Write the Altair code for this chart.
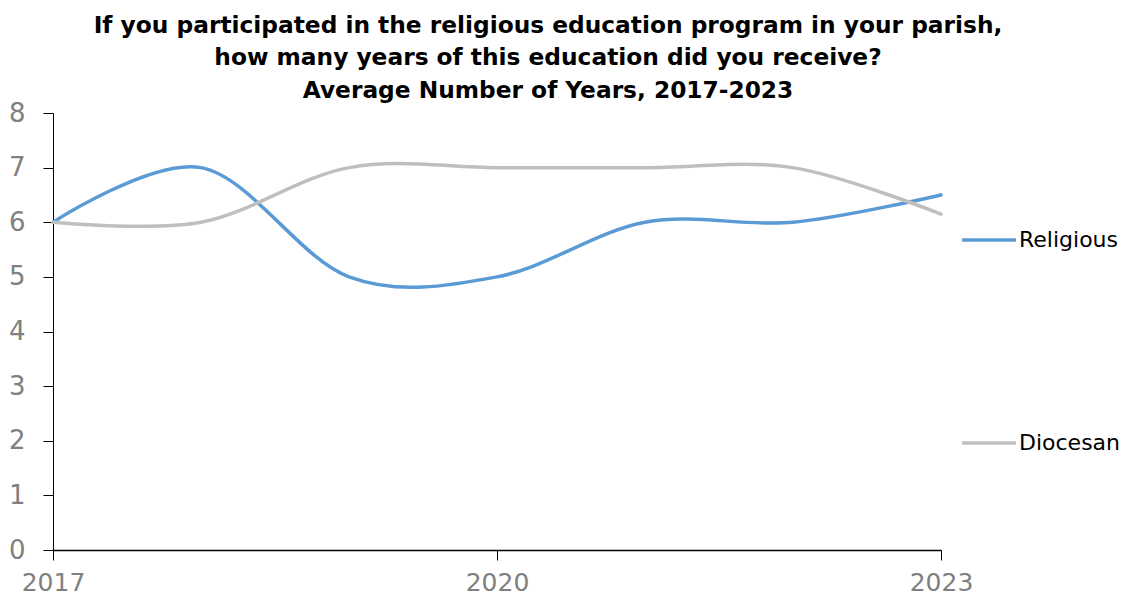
import altair as alt
import pandas as pd

years = [2017, 2018, 2019, 2020, 2021, 2022, 2023]
religious = [6.0, 7.0, 5.0, 5.0, 6.0, 6.0, 6.5]
diocesan = [6.0, 6.0, 7.0, 7.0, 7.0, 7.0, 6.15]
series = ["Religious", "Diocesan"]
colors = ["#5B9BD5", "#BFBFBF"]
x_ticks = [2017, 2020, 2023]
y_ticks = [0, 1, 2, 3, 4, 5, 6, 7, 8]

rows = []
for name, vals in zip(series, [religious, diocesan]):
    for yr, v in zip(years, vals):
        rows.append({"Year": yr, "Value": v, "Series": name})
df = pd.DataFrame(rows)

FONT = "DejaVu Sans"

chart = alt.Chart(df).mark_line(
    interpolate="cardinal", strokeWidth=3.5, strokeCap="round"
).encode(
    x=alt.X("Year:Q",
            scale=alt.Scale(domain=[2017, 2023], nice=False, zero=False),
            axis=alt.Axis(values=x_ticks, format="d", title=None, grid=False,
                          domainColor="#000000", domainWidth=1.5,
                          tickColor="#000000", tickSize=10, tickWidth=1,
                          labelColor="#808080", labelFontSize=25, labelFont=FONT,
                          labelPadding=10, labelFlush=False)),
    y=alt.Y("Value:Q",
            scale=alt.Scale(domain=[0, 8], nice=False),
            axis=alt.Axis(values=y_ticks, title=None, grid=False,
                          domainColor="#000000", domainWidth=1,
                          tickColor="#000000", tickSize=10, tickWidth=1,
                          labelColor="#808080", labelFontSize=26, labelFont=FONT,
                          labelPadding=18)),
    color=alt.Color("Series:N",
                    scale=alt.Scale(domain=series, range=colors),
                    legend=alt.Legend(title=None, orient="none",
                                      legendX=907, legendY=98,
                                      symbolType="stroke", symbolSize=2900,
                                      symbolStrokeWidth=3.5,
                                      labelFontSize=22, labelFont=FONT,
                                      labelColor="#000000", labelOffset=1,
                                      rowPadding=163)),
    order=alt.Order("Year:Q"),
).properties(
    width=888,
    height=437,
    padding={"left": 0, "top": 5, "right": 0, "bottom": 0},
    title=alt.TitleParams(
        text=["If you participated in the religious education program in your parish,",
              "how many years of this education did you receive?",
              "Average Number of Years, 2017-2023"],
        font=FONT, fontSize=23.3, fontWeight="bold", color="#000000",
        anchor="middle", frame="group", dx=51, lineHeight=32.5, offset=-3,
    ),
).configure_view(stroke=None)

chart.save("out.html", embed_options={"renderer": "svg", "actions": False})
